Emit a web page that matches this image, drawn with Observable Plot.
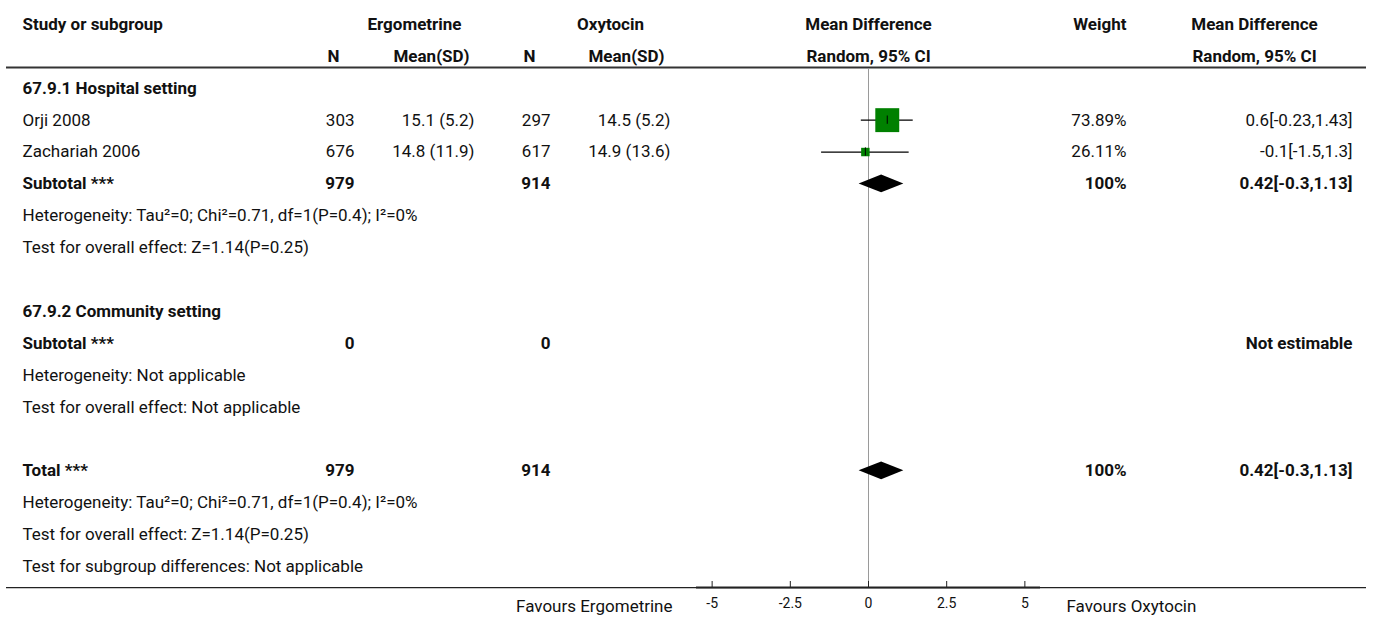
<!DOCTYPE html>
<html>
<head>
<meta charset="utf-8">
<script src="https://cdn.jsdelivr.net/npm/d3@7"></script>
<script src="https://cdn.jsdelivr.net/npm/@observablehq/plot@0.6"></script>
<style>
  html, body { margin: 0; padding: 0; background: #fff; }
  svg { display: block; }
</style>
</head>
<body>
<div id="chart"></div>
<script>
// ---------- data ----------
const studies = ["Orji 2008", "Zachariah 2006"];
const ergoN = [303, 676];
const ergoMeanSD = ["15.1 (5.2)", "14.8 (11.9)"];
const oxyN = [297, 617];
const oxyMeanSD = ["14.5 (5.2)", "14.9 (13.6)"];
const md = [0.6, -0.1];
const mdLow = [-0.23, -1.5];
const mdHigh = [1.43, 1.3];
const weights = [73.89, 26.11];
const weightLabels = ["73.89%", "26.11%"];
const ciLabels = ["0.6[-0.23,1.43]", "-0.1[-1.5,1.3]"];

const subtotalLabels = ["Subtotal ***", "Subtotal ***", "Total ***"];
const subtotalErgoN = [979, 0, 979];
const subtotalOxyN = [914, 0, 914];
const subtotalWeight = ["100%", "", "100%"];
const subtotalCI = ["0.42[-0.3,1.13]", "Not estimable", "0.42[-0.3,1.13]"];
const pooledMD = [0.42, null, 0.42];
const pooledLow = [-0.3, null, -0.3];
const pooledHigh = [1.13, null, 1.13];

const groupTitles = ["67.9.1 Hospital setting", "67.9.2 Community setting"];
const noteLines = [
  "Heterogeneity: Tau\u00B2=0; Chi\u00B2=0.71, df=1(P=0.4); I\u00B2=0%",
  "Test for overall effect: Z=1.14(P=0.25)",
  "Heterogeneity: Not applicable",
  "Test for overall effect: Not applicable",
  "Heterogeneity: Tau\u00B2=0; Chi\u00B2=0.71, df=1(P=0.4); I\u00B2=0%",
  "Test for overall effect: Z=1.14(P=0.25)",
  "Test for subgroup differences: Not applicable"
];
const xTicks = [-5, -2.5, 0, 2.5, 5];
const favoursLeft = "Favours Ergometrine";
const favoursRight = "Favours Oxytocin";

// ---------- layout (row indices) ----------
const studyRows = [3, 4];
const subtotalRows = [5, 10, 14];
const groupRows = [2, 9];
const noteRows = [6, 7, 11, 12, 15, 16, 17];

const W = 1375, H = 617, ML = 6, MR = 9, MB = 30;
const FONT = "Roboto, 'Noto Sans', sans-serif";
const FS = 17;
const col = {study: 22, ergoN: 354, ergoMean: 474, oxyN: 550, oxyMean: 670,
  ergoHead: 414, oxyHead: 610, ergoNHead: 333, ergoMeanHead: 431, oxyNHead: 529, oxyMeanHead: 626,
  mdHead: 868, weight: 1126, ci: 1352, ciHead: 1254};
const headerLineRow = 1.35, bottomRow = 17.66, favRow = 18.25;

const studyData = studies.map((s, i) => ({
  row: studyRows[i], name: s, eN: ergoN[i], eM: ergoMeanSD[i], oN: oxyN[i], oM: oxyMeanSD[i],
  md: md[i], lo: mdLow[i], hi: mdHigh[i], w: weights[i], wl: weightLabels[i], ci: ciLabels[i]
}));
const subData = subtotalLabels.map((s, i) => ({
  row: subtotalRows[i], name: s, eN: subtotalErgoN[i], oN: subtotalOxyN[i],
  wl: subtotalWeight[i], ci: subtotalCI[i], md: pooledMD[i], lo: pooledLow[i], hi: pooledHigh[i]
}));
const groupData = groupTitles.map((t, i) => ({row: groupRows[i], name: t}));
const noteData = noteLines.map((t, i) => ({row: noteRows[i], name: t}));

const diamondH = 0.28;
const diamonds = subData.filter(d => d.md != null).flatMap((d, k) => [
  {id: k, x: d.lo, y1: d.row, y2: d.row},
  {id: k, x: d.md, y1: d.row - diamondH, y2: d.row + diamondH},
  {id: k, x: d.hi, y1: d.row, y2: d.row}
]);

const headers = [
  {row: 0, t: "Study or subgroup", x: col.study, a: "start"},
  {row: 0, t: "Ergometrine", x: col.ergoHead, a: "middle"},
  {row: 0, t: "Oxytocin", x: col.oxyHead, a: "middle"},
  {row: 0, t: "Mean Difference", x: col.mdHead, a: "middle"},
  {row: 0, t: "Weight", x: col.weight, a: "end"},
  {row: 0, t: "Mean Difference", x: col.ciHead, a: "middle"},
  {row: 1, t: "N", x: col.ergoNHead, a: "middle"},
  {row: 1, t: "Mean(SD)", x: col.ergoMeanHead, a: "middle"},
  {row: 1, t: "N", x: col.oxyNHead, a: "middle"},
  {row: 1, t: "Mean(SD)", x: col.oxyMeanHead, a: "middle"},
  {row: 1, t: "Random, 95% CI", x: col.mdHead, a: "middle"},
  {row: 1, t: "Random, 95% CI", x: col.ciHead, a: "middle"}
];

function colText(data, text, x, anchor, weight) {
  return Plot.text(data, {
    y: "row", text, frameAnchor: "left", dx: x - ML, textAnchor: anchor,
    fontWeight: weight, fontSize: FS, fill: "#111"
  });
}

const plot = Plot.plot({
  width: W, height: H,
  marginLeft: ML, marginRight: MR, marginTop: 0, marginBottom: MB,
  style: {fontFamily: FONT, fontSize: FS + "px", background: "#fff"},
  x: {domain: [-5.5, 5.5], range: [696, 1040], axis: null},
  y: {domain: [0, 17], range: [24, 566], axis: null},
  r: {type: "linear", domain: [0, 73.89], range: [0, 13.5]},
  marks: [
    // header texts (positioned per column)
    ...headers.map(h => Plot.text([h], {
      y: "row", text: "t", frameAnchor: "left", dx: h.x - ML, textAnchor: h.a,
      fontWeight: "bold", fontSize: FS, fill: "#111"
    })),
    // separator lines
    Plot.ruleY([headerLineRow], {stroke: "#333", strokeWidth: 2}),
    Plot.ruleY([bottomRow], {stroke: "#222", strokeWidth: 1.2}),
    // zero line
    Plot.ruleX([0], {y1: () => headerLineRow + 0.05, y2: () => bottomRow, stroke: "#9a9a9a", strokeWidth: 1}),
    // axis segment
    Plot.ruleY([bottomRow], {x1: () => -5.5, x2: () => 5.5, stroke: "#222", strokeWidth: 2}),
    Plot.axisX({ticks: xTicks, tickSize: 6, dy: -6, tickFormat: () => "", label: null, stroke: "#222"}),
    Plot.axisX({ticks: xTicks, tickSize: 0, tickPadding: 11, label: null, fontSize: 14, fill: "#111",
      tickFormat: d => String(d)}),
    // group titles & notes
    colText(groupData, "name", col.study, "start", "bold"),
    colText(noteData, "name", col.study, "start", "normal"),
    // studies
    colText(studyData, "name", col.study, "start", "normal"),
    colText(studyData, "eN", col.ergoN, "end", "normal"),
    colText(studyData, "eM", col.ergoMean, "end", "normal"),
    colText(studyData, "oN", col.oxyN, "end", "normal"),
    colText(studyData, "oM", col.oxyMean, "end", "normal"),
    colText(studyData, "wl", col.weight, "end", "normal"),
    colText(studyData, "ci", col.ci, "end", "normal"),
    // subtotals
    colText(subData, "name", col.study, "start", "bold"),
    colText(subData, "eN", col.ergoN, "end", "bold"),
    colText(subData, "oN", col.oxyN, "end", "bold"),
    colText(subData, "wl", col.weight, "end", "bold"),
    colText(subData, "ci", col.ci, "end", "bold"),
    // CIs and squares
    Plot.ruleY(studyData, {y: "row", x1: "lo", x2: "hi", stroke: "#000", strokeWidth: 1.3}),
    Plot.dot(studyData, {x: "md", y: "row", r: "w", symbol: "square", fill: "#008000", stroke: null}),
    Plot.ruleX(studyData, {x: "md", y1: d => d.row - 0.13, y2: d => d.row + 0.13, stroke: "#000", strokeWidth: 1}),
    // diamonds
    Plot.areaY(diamonds, {x: "x", y1: "y1", y2: "y2", z: "id", fill: "#000", curve: "linear"}),
    // favours labels
    Plot.text([favoursLeft], {y: () => favRow, text: d => d, frameAnchor: "left", dx: 672 - ML, textAnchor: "end", fontSize: FS, fill: "#111"}),
    Plot.text([favoursRight], {y: () => favRow, text: d => d, frameAnchor: "left", dx: 1066 - ML, textAnchor: "start", fontSize: FS, fill: "#111"})
  ]
});
document.getElementById("chart").appendChild(plot);
</script>
</body>
</html>
